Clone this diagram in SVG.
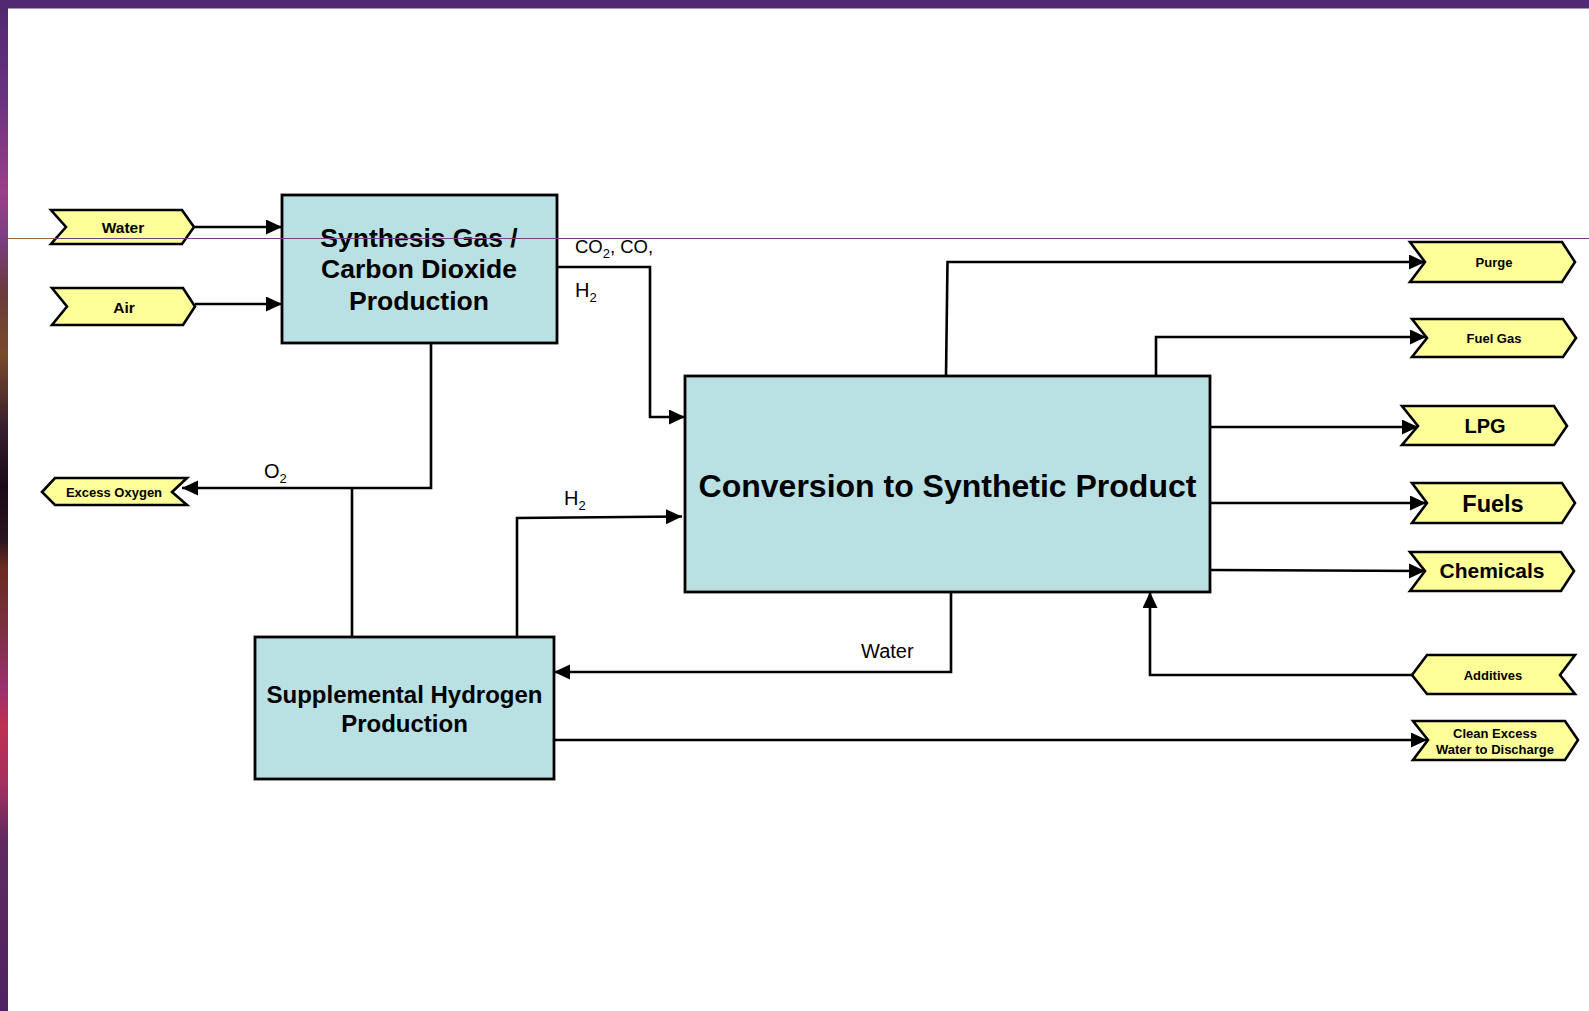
<svg xmlns="http://www.w3.org/2000/svg" width="1589" height="1011" viewBox="0 0 1589 1011">
  <defs>
    <style>
      .box { fill: #b9e0e3; stroke: #000; stroke-width: 2.8; }
      .tag { fill: #ffff99; stroke: #000; stroke-width: 2.6; stroke-linejoin: miter; }
      .flow { fill: none; stroke: #000; stroke-width: 2.6; }
      .arr { marker-end: url(#head); }
      .bt { font-family: "Liberation Sans", Arial, sans-serif; font-weight: bold; fill: #000; text-anchor: middle; }
      .lbl { font-family: "Liberation Sans", Arial, sans-serif; font-size: 20px; fill: #000; }
      .lbl.small { font-size: 18.5px; }
      .sub { font-size: 13px; }
    </style>
    <marker id="head" markerUnits="userSpaceOnUse" markerWidth="17" markerHeight="16" refX="16" refY="7.5" orient="auto">
      <path d="M0,0 L16,7.5 L0,15 z" fill="#000"/>
    </marker>
    <linearGradient id="edge" x1="0" y1="0" x2="0" y2="1">
      <stop offset="0" stop-color="#50286f"/>
      <stop offset="0.10" stop-color="#6b3380"/>
      <stop offset="0.19" stop-color="#9a3f8a"/>
      <stop offset="0.24" stop-color="#7a3e7e"/>
      <stop offset="0.29" stop-color="#6b3a3a"/>
      <stop offset="0.35" stop-color="#7a4a2a"/>
      <stop offset="0.42" stop-color="#3a2030"/>
      <stop offset="0.48" stop-color="#1a0a18"/>
      <stop offset="0.535" stop-color="#2a1520"/>
      <stop offset="0.56" stop-color="#6a2a20"/>
      <stop offset="0.62" stop-color="#7a3040"/>
      <stop offset="0.68" stop-color="#9a3070"/>
      <stop offset="0.72" stop-color="#c03050"/>
      <stop offset="0.78" stop-color="#a03060"/>
      <stop offset="0.83" stop-color="#602a60"/>
      <stop offset="1" stop-color="#4f2362"/>
    </linearGradient>
  </defs>

  <!-- page background and frame -->
  <rect x="0" y="0" width="1589" height="1011" fill="#ffffff"/>
  <rect x="0" y="0" width="1589" height="8.5" fill="#512873"/>
  <rect x="0" y="0" width="8" height="1011" fill="url(#edge)"/>

  <!-- connectors -->
  <g id="connectors">
    <path class="flow arr" d="M194,227 H282"/>
    <path class="flow arr" d="M195,304 H282"/>
    <path class="flow arr" d="M557,267 H650 V417 H685"/>
    <path class="flow arr" d="M431,343 V488 H182"/>
    <path class="flow" d="M352,488 V637"/>
    <path class="flow arr" d="M517,637 V518 L682,516.5"/>
    <path class="flow arr" d="M951,592 V672 H554"/>
    <path class="flow arr" d="M946,376 L947.5,262 H1425"/>
    <path class="flow arr" d="M1156,376 V337 H1426"/>
    <path class="flow arr" d="M1210,427 H1418"/>
    <path class="flow arr" d="M1210,503 H1426"/>
    <path class="flow arr" d="M1210,570 L1425,571"/>
    <path class="flow arr" d="M1412,675 H1150 V592"/>
    <path class="flow arr" d="M554,740 H1427"/>
  </g>

  <!-- flow labels -->
  <g id="flow-labels">
    <text class="lbl small" x="575" y="253">CO<tspan class="sub" dy="5">2</tspan><tspan dy="-5">, CO,</tspan></text>
    <text class="lbl" x="575" y="297">H<tspan class="sub" dy="5">2</tspan></text>
    <text class="lbl" x="264" y="478">O<tspan class="sub" dy="5">2</tspan></text>
    <text class="lbl" x="564" y="505">H<tspan class="sub" dy="5">2</tspan></text>
    <text class="lbl" x="861" y="658">Water</text>
  </g>

  <!-- process blocks -->
  <g id="synthesis-gas">
    <rect class="box" x="282" y="195" width="275" height="148"/>
    <text class="bt" x="419" y="247" font-size="26.5">Synthesis Gas /</text>
    <text class="bt" x="419" y="278" font-size="26.5">Carbon Dioxide</text>
    <text class="bt" x="419" y="310" font-size="26.5">Production</text>
  </g>
  <g id="supplemental-hydrogen">
    <rect class="box" x="255" y="637" width="299" height="142"/>
    <text class="bt" x="404.5" y="703" font-size="24">Supplemental Hydrogen</text>
    <text class="bt" x="404.5" y="732" font-size="24">Production</text>
  </g>
  <g id="conversion">
    <rect class="box" x="685" y="376" width="525" height="216"/>
    <text class="bt" x="947.5" y="497" font-size="32">Conversion to Synthetic Product</text>
  </g>

  <!-- feed and product tags -->
  <g id="water-in">
    <polygon class="tag" points="51,210 182,210 194,227 182,244 51,244 66,227"/>
    <text class="bt" x="123" y="233" font-size="15.5">Water</text>
  </g>
  <g id="air-in">
    <polygon class="tag" points="52,288 183,288 195,306.5 183,325 52,325 67,306.5"/>
    <text class="bt" x="124" y="313" font-size="15.5">Air</text>
  </g>
  <g id="excess-oxygen">
    <polygon class="tag" points="42,492 55,478 187,478 172,492 187,505 55,505"/>
    <text class="bt" x="114" y="497" font-size="13">Excess Oxygen</text>
  </g>
  <g id="purge">
    <polygon class="tag" points="1410,242 1562,242 1575,262 1562,282 1410,282 1425,262"/>
    <text class="bt" x="1494" y="267" font-size="13">Purge</text>
  </g>
  <g id="fuel-gas">
    <polygon class="tag" points="1412,319 1563,319 1576,338 1563,357 1412,357 1427,338"/>
    <text class="bt" x="1494" y="343" font-size="13">Fuel Gas</text>
  </g>
  <g id="lpg">
    <polygon class="tag" points="1402,406 1554,406 1567,426 1554,445 1402,445 1418,426"/>
    <text class="bt" x="1485" y="433" font-size="20">LPG</text>
  </g>
  <g id="fuels">
    <polygon class="tag" points="1412,483 1562,483 1575,503 1562,523 1412,523 1427,503"/>
    <text class="bt" x="1493" y="512" font-size="23.5">Fuels</text>
  </g>
  <g id="chemicals">
    <polygon class="tag" points="1410,552 1561,552 1574,571 1561,591 1410,591 1425,571"/>
    <text class="bt" x="1492" y="578" font-size="21">Chemicals</text>
  </g>
  <g id="additives">
    <polygon class="tag" points="1412,675 1427,655 1575,655 1560,675 1575,694 1427,694"/>
    <text class="bt" x="1493" y="680" font-size="13">Additives</text>
  </g>
  <g id="clean-water">
    <polygon class="tag" points="1413,721 1565,721 1578,740 1565,760 1413,760 1428,740"/>
    <text class="bt" x="1495" y="738" font-size="13">Clean Excess</text>
    <text class="bt" x="1495" y="754" font-size="13">Water to Discharge</text>
  </g>

  <!-- thin guide rule across the page -->
  <line x1="8" y1="238.5" x2="55" y2="238.5" stroke="#a0603a" stroke-width="1"/>
  <line x1="55" y1="238.5" x2="1589" y2="238.5" stroke="#7a3e88" stroke-width="1"/>
</svg>
